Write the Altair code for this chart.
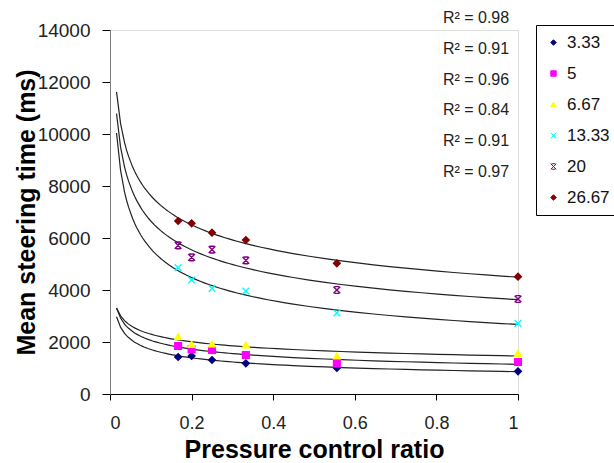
import altair as alt
import pandas as pd

# ---- data ----
x_vals = [0.167, 0.2, 0.25, 0.333, 0.556, 1.0]
series_names = ["3.33", "5", "6.67", "13.33", "20", "26.67"]
y_3_33 = [1423, 1462, 1308, 1179, 1000, 872]
y_5 = [1846, 1718, 1692, 1500, 1179, 1231]
y_6_67 = [2205, 1910, 1923, 1885, 1462, 1564]
y_13_33 = [4859, 4385, 4064, 3962, 3115, 2718]
y_20 = [5718, 5256, 5551, 5141, 4000, 3654]
y_26_67 = [6654, 6565, 6204, 5923, 5026, 4513]
r2_labels = ["R² = 0.98", "R² = 0.91", "R² = 0.96", "R² = 0.84", "R² = 0.91", "R² = 0.97"]

series_values = [y_3_33, y_5, y_6_67, y_13_33, y_20, y_26_67]
colors = ["#000080", "#FF00FF", "#FFFF00", "#00FFFF", "#800080", "#800000"]
shapes = [
    "diamond",
    "square",
    "triangle-up",
    "M-1,-1L1,1M1,-1L-1,1",
    "M-1,-1L1,1M1,-1L-1,1M-0.7,-1L0.7,-1M-0.7,1L0.7,1",
    "diamond",
]

rows = []
for name, vals in zip(series_names, series_values):
    for xv, yv in zip(x_vals, vals):
        rows.append({"x": xv, "y": yv, "series": name})
df = pd.DataFrame(rows)
r2_df = pd.DataFrame({"label": r2_labels, "idx": list(range(len(r2_labels)))})

FONT = "Liberation Sans, Arial, sans-serif"

x_enc = alt.X(
    "x:Q",
    scale=alt.Scale(domain=[0, 1], nice=False),
    axis=alt.Axis(
        title="Pressure control ratio",
        values=[0, 0.2, 0.4, 0.6, 0.8, 1.0],
        format="~g",
        grid=False,
        domainColor="#000000",
        tickColor="#000000",
        tickSize=6,
        labelFontSize=18,
        labelFont=FONT,
        labelColor="#222222",
        labelPadding=14,
        titleFont=FONT,
        titleFontSize=25,
        titleFontWeight="bold",
        titleColor="#000000",
        titleX=204,
        titleY=63,
        titleBaseline="alphabetic",
        titleAlign="center",
    ),
)
y_enc = alt.Y(
    "y:Q",
    scale=alt.Scale(domain=[0, 14000], nice=False),
    axis=alt.Axis(
        title="Mean steering time (ms)",
        values=list(range(0, 14001, 2000)),
        format="d",
        grid=False,
        domainColor="#808080",
        tickColor="#000000",
        tickSize=8,
        labelFontSize=19,
        labelFont=FONT,
        labelColor="#222222",
        labelPadding=12,
        titleFont=FONT,
        titleFontSize=25,
        titleFontWeight="bold",
        titleColor="#000000",
        titleX=-84,
        titleY=182,
        titleAngle=270,
        titleAlign="center",
        titleBaseline="middle",
    ),
)

base = alt.Chart(df)

trend = base.transform_regression(
    "x", "y", groupby=["series"], method="pow", extent=[0.016, 1.0]
).mark_line(color="#222222", strokeWidth=1.2).encode(
    x=x_enc, y=y_enc, detail="series:N"
)

legend = alt.Legend(
    title=None,
    orient="none",
    legendX=426,
    legendY=-5,
    strokeColor="#000000",
    fillColor="#FFFFFF",
    padding=9,
    rowPadding=13,
    labelFontSize=17,
    labelFont=FONT,
    labelColor="#111111",
    symbolSize=30,
    symbolStrokeWidth=1,
    labelOffset=5,
)

points = base.mark_point(filled=True, size=45, opacity=1, strokeWidth=1.4).encode(
    x="x:Q",
    y="y:Q",
    color=alt.Color("series:N", scale=alt.Scale(domain=series_names, range=colors), legend=legend, sort=series_names),
    stroke=alt.Stroke("series:N", scale=alt.Scale(domain=series_names, range=colors), legend=legend, sort=series_names),
    shape=alt.Shape("series:N", scale=alt.Scale(domain=series_names, range=shapes), legend=legend, sort=series_names),
)

r2_text = alt.Chart(r2_df).mark_text(
    font=FONT, fontSize=16, color="#222222", align="center", baseline="middle"
).encode(
    x=alt.value(366),
    y=alt.Y("idx:Q", scale=alt.Scale(domain=[0, 5], range=[-12, 142]), axis=None),
    text="label:N",
)

main = alt.layer(trend, points)

chart = alt.layer(main, r2_text).resolve_scale(y="independent").properties(
    width=408,
    height=364,
    autosize=alt.AutoSizeParams(type="none"),
    padding={"left": 110, "top": 30, "right": 96, "bottom": 69},
).configure_view(stroke=None).configure(background="white")

chart.save("out.html", embed_options={"renderer": "svg", "actions": False})
